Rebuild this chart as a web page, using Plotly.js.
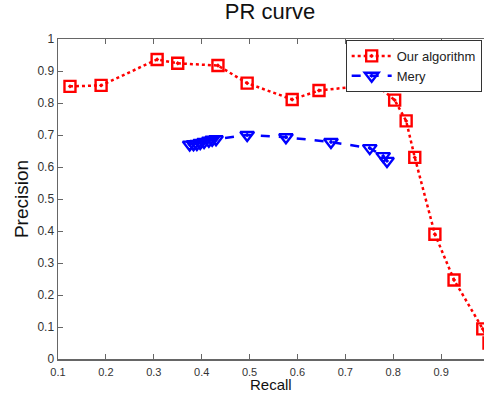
<!DOCTYPE html>
<html>
<head>
<meta charset="utf-8">
<script src="https://cdn.plot.ly/plotly-3.0.1.min.js"></script>
<style>html,body{margin:0;padding:0;overflow:hidden;background:#fff;}</style>
</head>
<body>
<div id="chart"></div>
<script>
const oursRecall = [0.125, 0.19, 0.307, 0.35, 0.434, 0.495, 0.589, 0.645, 0.764, 0.803, 0.827, 0.845, 0.887, 0.927, 0.987, 1.0];
const oursPrecision = [0.852, 0.855, 0.936, 0.924, 0.917, 0.862, 0.811, 0.839, 0.858, 0.809, 0.744, 0.63, 0.39, 0.247, 0.094, 0.05];
const meryRecall = [0.375, 0.383, 0.39, 0.397, 0.405, 0.415, 0.422, 0.43, 0.495, 0.576, 0.67, 0.751, 0.779, 0.787];
const meryPrecision = [0.67, 0.671, 0.672, 0.675, 0.678, 0.682, 0.685, 0.687, 0.70, 0.693, 0.678, 0.659, 0.634, 0.619];
const xTicks = [0.1, 0.2, 0.3, 0.4, 0.5, 0.6, 0.7, 0.8, 0.9, 1];
const yTicks = [0, 0.1, 0.2, 0.3, 0.4, 0.5, 0.6, 0.7, 0.8, 0.9, 1];
const seriesNames = ['Our algorithm', 'Mery'];
const xTitle = 'Recall';

const font = 'Liberation Sans, Arial, sans-serif';
const traces = [
  {
    x: oursRecall, y: oursPrecision, name: seriesNames[0], type: 'scatter', mode: 'lines+markers',
    line: {color: '#ff0000', width: 2.5, dash: 'dot'},
    marker: {symbol: 'square-open-dot', size: 11, color: '#ff0000', line: {width: 2.4, color: '#ff0000'}},
    cliponaxis: true
  },
  {
    x: meryRecall, y: meryPrecision, name: seriesNames[1], type: 'scatter', mode: 'lines+markers',
    line: {color: '#0000ff', width: 2.5, dash: 'dash'},
    marker: {symbol: 'triangle-down-open-dot', size: 12, color: '#0000ff', line: {width: 2.4, color: '#0000ff'}}
  }
];
const axisCommon = {
  showgrid: false, zeroline: false, showline: true, linecolor: '#666', linewidth: 1.5,
  ticks: 'inside', ticklen: 5, tickcolor: '#666', mirror: 'ticks',
  tickfont: {family: font, size: 12, color: '#333'}
};
const layout = {
  width: 490, height: 394,
  margin: {l: 58, r: 1, t: 39, b: 35},
  paper_bgcolor: '#fff', plot_bgcolor: '#fff',
  title: {text: 'PR curve', font: {family: font, size: 22, color: '#111'}, x: 270 / 490, xanchor: 'center', y: 0.99, yanchor: 'top'},
  xaxis: Object.assign({}, axisCommon, {
    range: [0.1, 1.0], tickvals: xTicks, ticktext: xTicks.map(String), ticklabelstandoff: 2,
    tickfont: {family: font, size: 11, color: '#333'}
  }),
  yaxis: Object.assign({}, axisCommon, {
    range: [0, 1], tickvals: yTicks, ticktext: yTicks.map(String),
    title: {text: 'Precision', font: {family: font, size: 19, color: '#111'}, standoff: 4}
  }),
  annotations: [{
    text: xTitle, xref: 'paper', yref: 'paper', x: (271 - 58) / 431, y: -35 / 320,
    xanchor: 'center', yanchor: 'bottom', showarrow: false, borderpad: 0,
    font: {family: font, size: 15, color: '#111'}
  }],
  showlegend: true,
  legend: {
    x: 0.983, xanchor: 'right', y: 0.997, yanchor: 'top',
    bgcolor: '#fff', bordercolor: '#333', borderwidth: 1,
    font: {family: font, size: 13, color: '#222'},
    tracegroupgap: 0, itemwidth: 40
  }
};
Plotly.newPlot('chart', traces, layout, {displayModeBar: false, staticPlot: true});
</script>
</body>
</html>
